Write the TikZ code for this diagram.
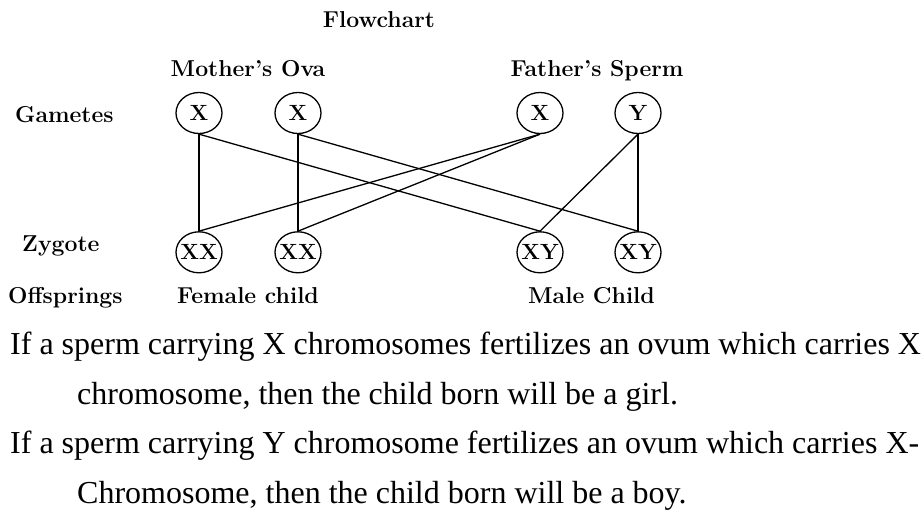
\documentclass[tikz,border=0pt]{standalone}
\usepackage{fontspec}
\newfontfamily\timesfont{Liberation Serif}
\usetikzlibrary{shapes.geometric, positioning}

\begin{document}
\begin{tikzpicture}[
  x=1pt, y=-1pt,
  cell/.style={draw, ellipse, line width=1.3pt, minimum width=46pt, minimum height=41pt, inner xsep=-9pt, inner ysep=0pt, font=\fontsize{22}{24}\selectfont\bfseries},
  lbl/.style={anchor=base, inner sep=0pt, font=\fontsize{23}{25}\selectfont\bfseries},
  rowlbl/.style={lbl, anchor=base west},
  link/.style={line width=1.3pt},
  boldlink/.style={line width=2.6pt},
  para/.style={anchor=base west, inner sep=0pt, font=\fontsize{32}{36}\selectfont\timesfont}
]
\useasboundingbox (0,0) rectangle (923,517);

% Titles
\node[lbl]     (title)  at (379,27)  {Flowchart};
\node[lbl]     (ova)    at (248,76)  {Mother's Ova};
\node[lbl]     (sperm)  at (597,76)  {Father's Sperm};

% Gametes
\node[rowlbl]  (gam)    at (15,122)  {Gametes};
\node[cell]    (Xm1)    at (199,113) {X};
\node[cell]    (Xm2)    at (298,113) {X};
\node[cell]    (Xf)     at (540,113) {X};
\node[cell]    (Yf)     at (638,113) {Y};

% Zygotes
\node[rowlbl]  (zyg)    at (22,251)  {Zygote};
\node[cell]    (XX1)    [below=97pt of Xm1] {XX};
\node[cell]    (XX2)    [below=97pt of Xm2] {XX};
\node[cell]    (XY1)    [below=97pt of Xf]  {XY};
\node[cell]    (XY2)    [below=97pt of Yf]  {XY};

% Offsprings
\node[rowlbl]  (off)    at (8,303)   {Offsprings};
\node[rowlbl]  (female) at (177,303) {Female child};
\node[rowlbl]  (male)   at (528,303) {Male Child};

% Crosses
\draw[link]     (Xm1.south) -- (XX1.north);
\draw[link]     (Xm1.south) -- (XY1.north);
\draw[boldlink] (Xm2.south) -- (XX2.north);
\draw[link]     (Xm2.south) -- (XY2.north);
\draw[link]     (Xf.south)  -- (XX1.north);
\draw[link]     (Xf.south)  -- (XX2.north);
\draw[link]     (Yf.south)  -- (XY1.north);
\draw[link]     (Yf.south)  -- (XY2.north);

% Explanation
\node[para] (l1) at (10,354) {If a sperm carrying X chromosomes fertilizes an ovum which carries X};
\node[para] (l2) at (77,404) {chromosome, then the child born will be a girl.};
\node[para] (l3) at (10,453) {If a sperm carrying Y chromosome fertilizes an ovum which carries X-};
\node[para] (l4) at (77,503) {Chromosome, then the child born will be a boy.};
\end{tikzpicture}
\end{document}
